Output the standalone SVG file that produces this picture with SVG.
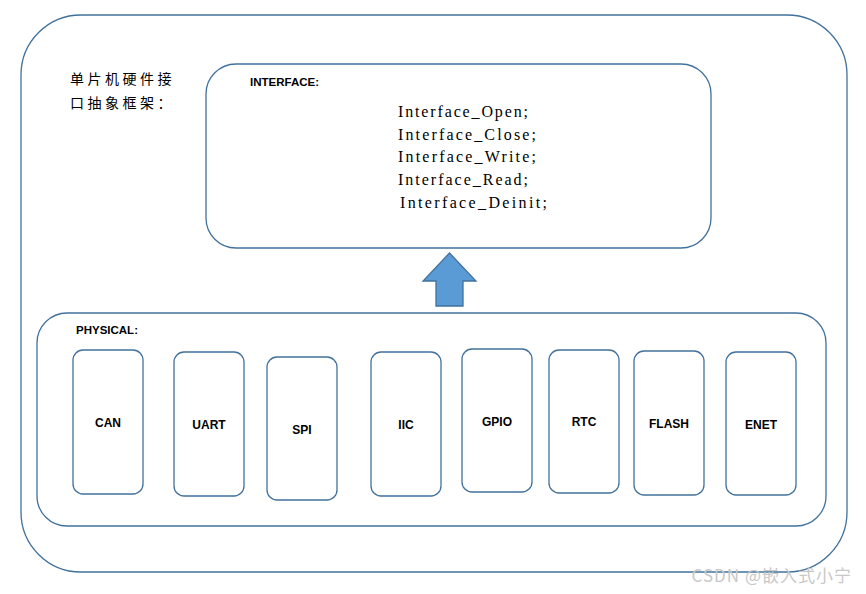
<svg xmlns="http://www.w3.org/2000/svg" width="866" height="594" viewBox="0 0 866 594">
<style>
.box{fill:#fff;stroke:#41719c;stroke-width:1.3}
.lbl{font-family:"Liberation Sans",Arial,sans-serif;font-size:12px;font-weight:bold;fill:#000;text-anchor:middle}
.hd{font-family:"Liberation Sans",Arial,sans-serif;font-size:11.5px;font-weight:bold;fill:#000}
.fn{font-family:"Liberation Serif","Times New Roman",serif;font-size:16px;fill:#000}
.cn{font-family:"Noto Sans CJK SC",sans-serif;font-size:14px;fill:#000;letter-spacing:3.5px}
</style>
<rect width="866" height="594" fill="#fff"/>
<g id="outer"><rect class="box" x="21" y="15" width="826" height="557" rx="60"/>
<text class="cn" x="70" y="84">单片机硬件接</text><text class="cn" x="70" y="108">口抽象框架：</text></g>
<g id="interface"><rect class="box" x="206" y="64" width="505" height="184" rx="30"/>
<text class="hd" x="250" y="86">INTERFACE:</text>
<text class="fn" x="398" y="117" textLength="130">Interface_Open;</text>
<text class="fn" x="398" y="140" textLength="138">Interface_Close;</text>
<text class="fn" x="398" y="162" textLength="138">Interface_Write;</text>
<text class="fn" x="398" y="185" textLength="130">Interface_Read;</text>
<text class="fn" x="400" y="208" textLength="147">Interface_Deinit;</text></g>
<g id="connectors"><polygon points="449.5,253 476,281 463,281 463,306 436,306 436,281 423,281" fill="#5b9bd5" stroke="#41719c" stroke-width="1.3"/></g>
<g id="physical"><rect class="box" x="37" y="313" width="789" height="213" rx="30"/>
<text class="hd" x="76" y="334">PHYSICAL:</text></g>
<g id="can"><rect class="box" x="73" y="350" width="70" height="144" rx="10"/><text class="lbl" x="108" y="427">CAN</text></g>
<g id="uart"><rect class="box" x="174" y="352" width="70" height="144" rx="10"/><text class="lbl" x="209" y="429">UART</text></g>
<g id="spi"><rect class="box" x="267" y="357" width="70" height="143" rx="10"/><text class="lbl" x="302" y="434">SPI</text></g>
<g id="iic"><rect class="box" x="371" y="352" width="70" height="144" rx="10"/><text class="lbl" x="406" y="429">IIC</text></g>
<g id="gpio"><rect class="box" x="462" y="349" width="70" height="143" rx="10"/><text class="lbl" x="497" y="426">GPIO</text></g>
<g id="rtc"><rect class="box" x="549" y="350" width="70" height="143" rx="10"/><text class="lbl" x="584" y="426">RTC</text></g>
<g id="flash"><rect class="box" x="634" y="351" width="70" height="144" rx="10"/><text class="lbl" x="669" y="428">FLASH</text></g>
<g id="enet"><rect class="box" x="726" y="352" width="70" height="143" rx="10"/><text class="lbl" x="761" y="429">ENET</text></g>
<text x="852" y="582" text-anchor="end" font-family="'Noto Sans CJK SC',sans-serif" font-size="17" letter-spacing="1" fill="#c8c8c8">CSDN @嵌入式小宁</text>
</svg>
